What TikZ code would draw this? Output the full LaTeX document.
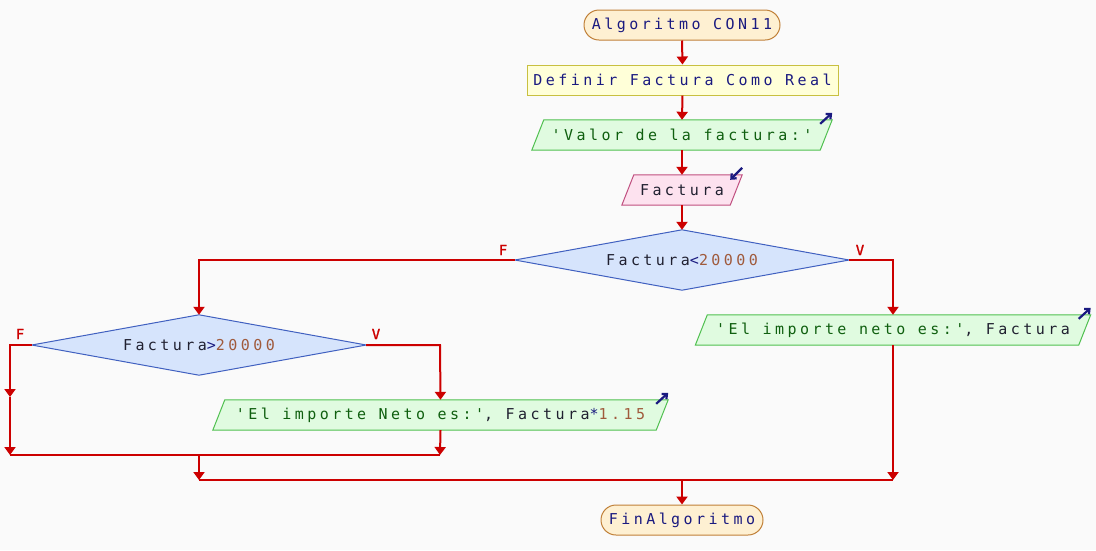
\documentclass[tikz,border=0pt]{standalone}
\usepackage{fontspec}
\setmonofont{DejaVu Sans Mono}[LetterSpace=23]
\newfontfamily\labfont{DejaVu Sans Mono}[FakeBold=1.5]
\usetikzlibrary{arrows.meta,backgrounds}
\definecolor{bgc}{HTML}{FAFAFA}
\definecolor{flow}{HTML}{CC0000}
\definecolor{kw}{HTML}{1A1A80}
\definecolor{strc}{HTML}{0F5F0F}
\definecolor{varc}{HTML}{202030}
\definecolor{numc}{HTML}{A05A3C}
\definecolor{termfill}{HTML}{FEF0D2}
\definecolor{termdraw}{HTML}{C08038}
\definecolor{deffill}{HTML}{FFFFD8}
\definecolor{defdraw}{HTML}{C8C040}
\definecolor{outfill}{HTML}{E0FBE0}
\definecolor{outdraw}{HTML}{50C050}
\definecolor{infill}{HTML}{FDE2EF}
\definecolor{indraw}{HTML}{C05080}
\definecolor{decfill}{HTML}{D6E4FC}
\definecolor{decdraw}{HTML}{4060C0}
\tikzset{
  txt/.style={font=\ttfamily\fontsize{15}{17}\selectfont},
  box/.style={txt,inner sep=0pt,rectangle},
  term/.style={box,draw=termdraw,fill=termfill,rounded corners=15pt,line width=1pt,text=kw},
  defbox/.style={box,draw=defdraw,fill=deffill,line width=1pt,text=kw},
  flowline/.style={draw=flow,line width=2pt},
  arr/.style={flowline,-{Triangle[width=11pt,length=8pt]}},
  lab/.style={text=flow,font=\labfont\fontsize{14}{16}\selectfont,inner sep=0pt},
  icon/.style={draw=kw,line width=2.2pt,-{Straight Barb[length=4pt,width=7pt]}},
  para/.style={line width=1pt},
}
\newcommand{\Str}[1]{\textcolor{strc}{#1}}
\newcommand{\Var}[1]{\textcolor{varc}{#1}}
\newcommand{\Num}[1]{\textcolor{numc}{#1}}
\newcommand{\Op}[1]{\textcolor{kw}{#1}}
\begin{document}
\begin{tikzpicture}[x=1pt,y=-1pt]
\useasboundingbox (0,0) rectangle (1096,550);

% terminals and definition box
\node[term,minimum width=196pt,minimum height=30pt] (start) at (682,25) {Algoritmo CON11};
\node[defbox,minimum width=311pt,minimum height=30pt] (def) at (682.5,80) {Definir Factura Como Real};

% output 1
\node[box,minimum width=300pt,minimum height=30pt] (out1) at (682,135) {\Str{'Valor de la factura:'}};
% input
\node[box,minimum width=120pt,minimum height=30pt] (in1) at (682,190) {\Var{Factura}};
% decision 1
\node[box,minimum width=334pt,minimum height=60pt] (d1) at (682,260) {\Var{Factura}\Op{<}\Num{20000}};
% decision 2
\node[box,minimum width=334pt,minimum height=60pt] (d2) at (199,345) {\Var{Factura}\Op{>}\Num{20000}};
% output 2 (left, true)
\node[box,minimum width=455pt,minimum height=30pt] (out2) at (440.5,415) {\Str{'El importe Neto es:'}\Var{, Factura}\Op{*}\Num{1.15}};
% output 3 (right)
\node[box,minimum width=395pt,minimum height=30pt] (out3) at (893,330) {\Str{'El importe neto es:'}\Var{, Factura}};
% end
\node[term,minimum width=162pt,minimum height=30pt] (fin) at (682,520) {FinAlgoritmo};

% shapes behind text
\begin{scope}[on background layer]
\fill[bgc] (0,0) rectangle (1096,550);
\draw[para,draw=outdraw,fill=outfill] (out1.south west) -- ([xshift=12pt]out1.north west) -- (out1.north east) -- ([xshift=-12pt]out1.south east) -- cycle;
\draw[para,draw=indraw,fill=infill] (in1.south west) -- ([xshift=12pt]in1.north west) -- (in1.north east) -- ([xshift=-12pt]in1.south east) -- cycle;
\draw[para,draw=decdraw,fill=decfill] (d1.west) -- (d1.north) -- (d1.east) -- (d1.south) -- cycle;
\draw[para,draw=decdraw,fill=decfill] (d2.west) -- (d2.north) -- (d2.east) -- (d2.south) -- cycle;
\draw[para,draw=outdraw,fill=outfill] (out2.south west) -- ([xshift=12pt]out2.north west) -- (out2.north east) -- ([xshift=-12pt]out2.south east) -- cycle;
\draw[para,draw=outdraw,fill=outfill] (out3.south west) -- ([xshift=12pt]out3.north west) -- (out3.north east) -- ([xshift=-12pt]out3.south east) -- cycle;
\end{scope}

% io icons
\draw[icon] ([shift={(-12pt,-4pt)}]out1.north east) -- ([shift={(0pt,7pt)}]out1.north east);
\draw[icon] ([shift={(0pt,7pt)}]in1.north east) -- ([shift={(-12pt,-5pt)}]in1.north east);
\draw[icon] ([shift={(-12pt,-4pt)}]out2.north east) -- ([shift={(0pt,7pt)}]out2.north east);
\draw[icon] ([shift={(-12pt,-4pt)}]out3.north east) -- ([shift={(0pt,7pt)}]out3.north east);

% coordinates for junctions
\coordinate (lf) at (199,260);
\coordinate (rt) at (893,260);
\coordinate (lf2) at (10,345);
\coordinate (lmid) at (10,397);
\coordinate (lbot) at (10,455);
\coordinate (rt2) at (440,345);
\coordinate (rbot2) at (440,455);
\coordinate (j1) at (199,455);
\coordinate (j1b) at (199,480);
\coordinate (rbot) at (893,480);
\coordinate (j2) at (682,480);

% flow
\draw[arr] (start.south) -- (def.north);
\draw[arr] (def.south) -- (out1.north);
\draw[arr] (out1.south) -- (in1.north);
\draw[arr] (in1.south) -- (d1.north);
\draw[arr] (d1.west) -- (lf) -- (d2.north);
\draw[arr] (d1.east) -- (rt) -- (out3.north);
\draw[arr] (d2.west) -- (lf2) -- (lmid);
\draw[arr] (lmid) -- (lbot);
\draw[arr] (d2.east) -- (rt2) -- (out2.north);
\draw[arr] (out2.south) -- (rbot2);
\draw[flowline] (lbot) -- (rbot2);
\draw[arr] (j1) -- (j1b);
\draw[arr] (out3.south) -- (rbot);
\draw[flowline] (j1b) -- (rbot);
\draw[arr] (j2) -- (fin.north);

% labels
\node[lab] (lF1) at (503,250) {F};
\node[lab] (lV1) at (860,250) {V};
\node[lab] (lF2) at (20,334) {F};
\node[lab] (lV2) at (376,334) {V};
\end{tikzpicture}
\end{document}
